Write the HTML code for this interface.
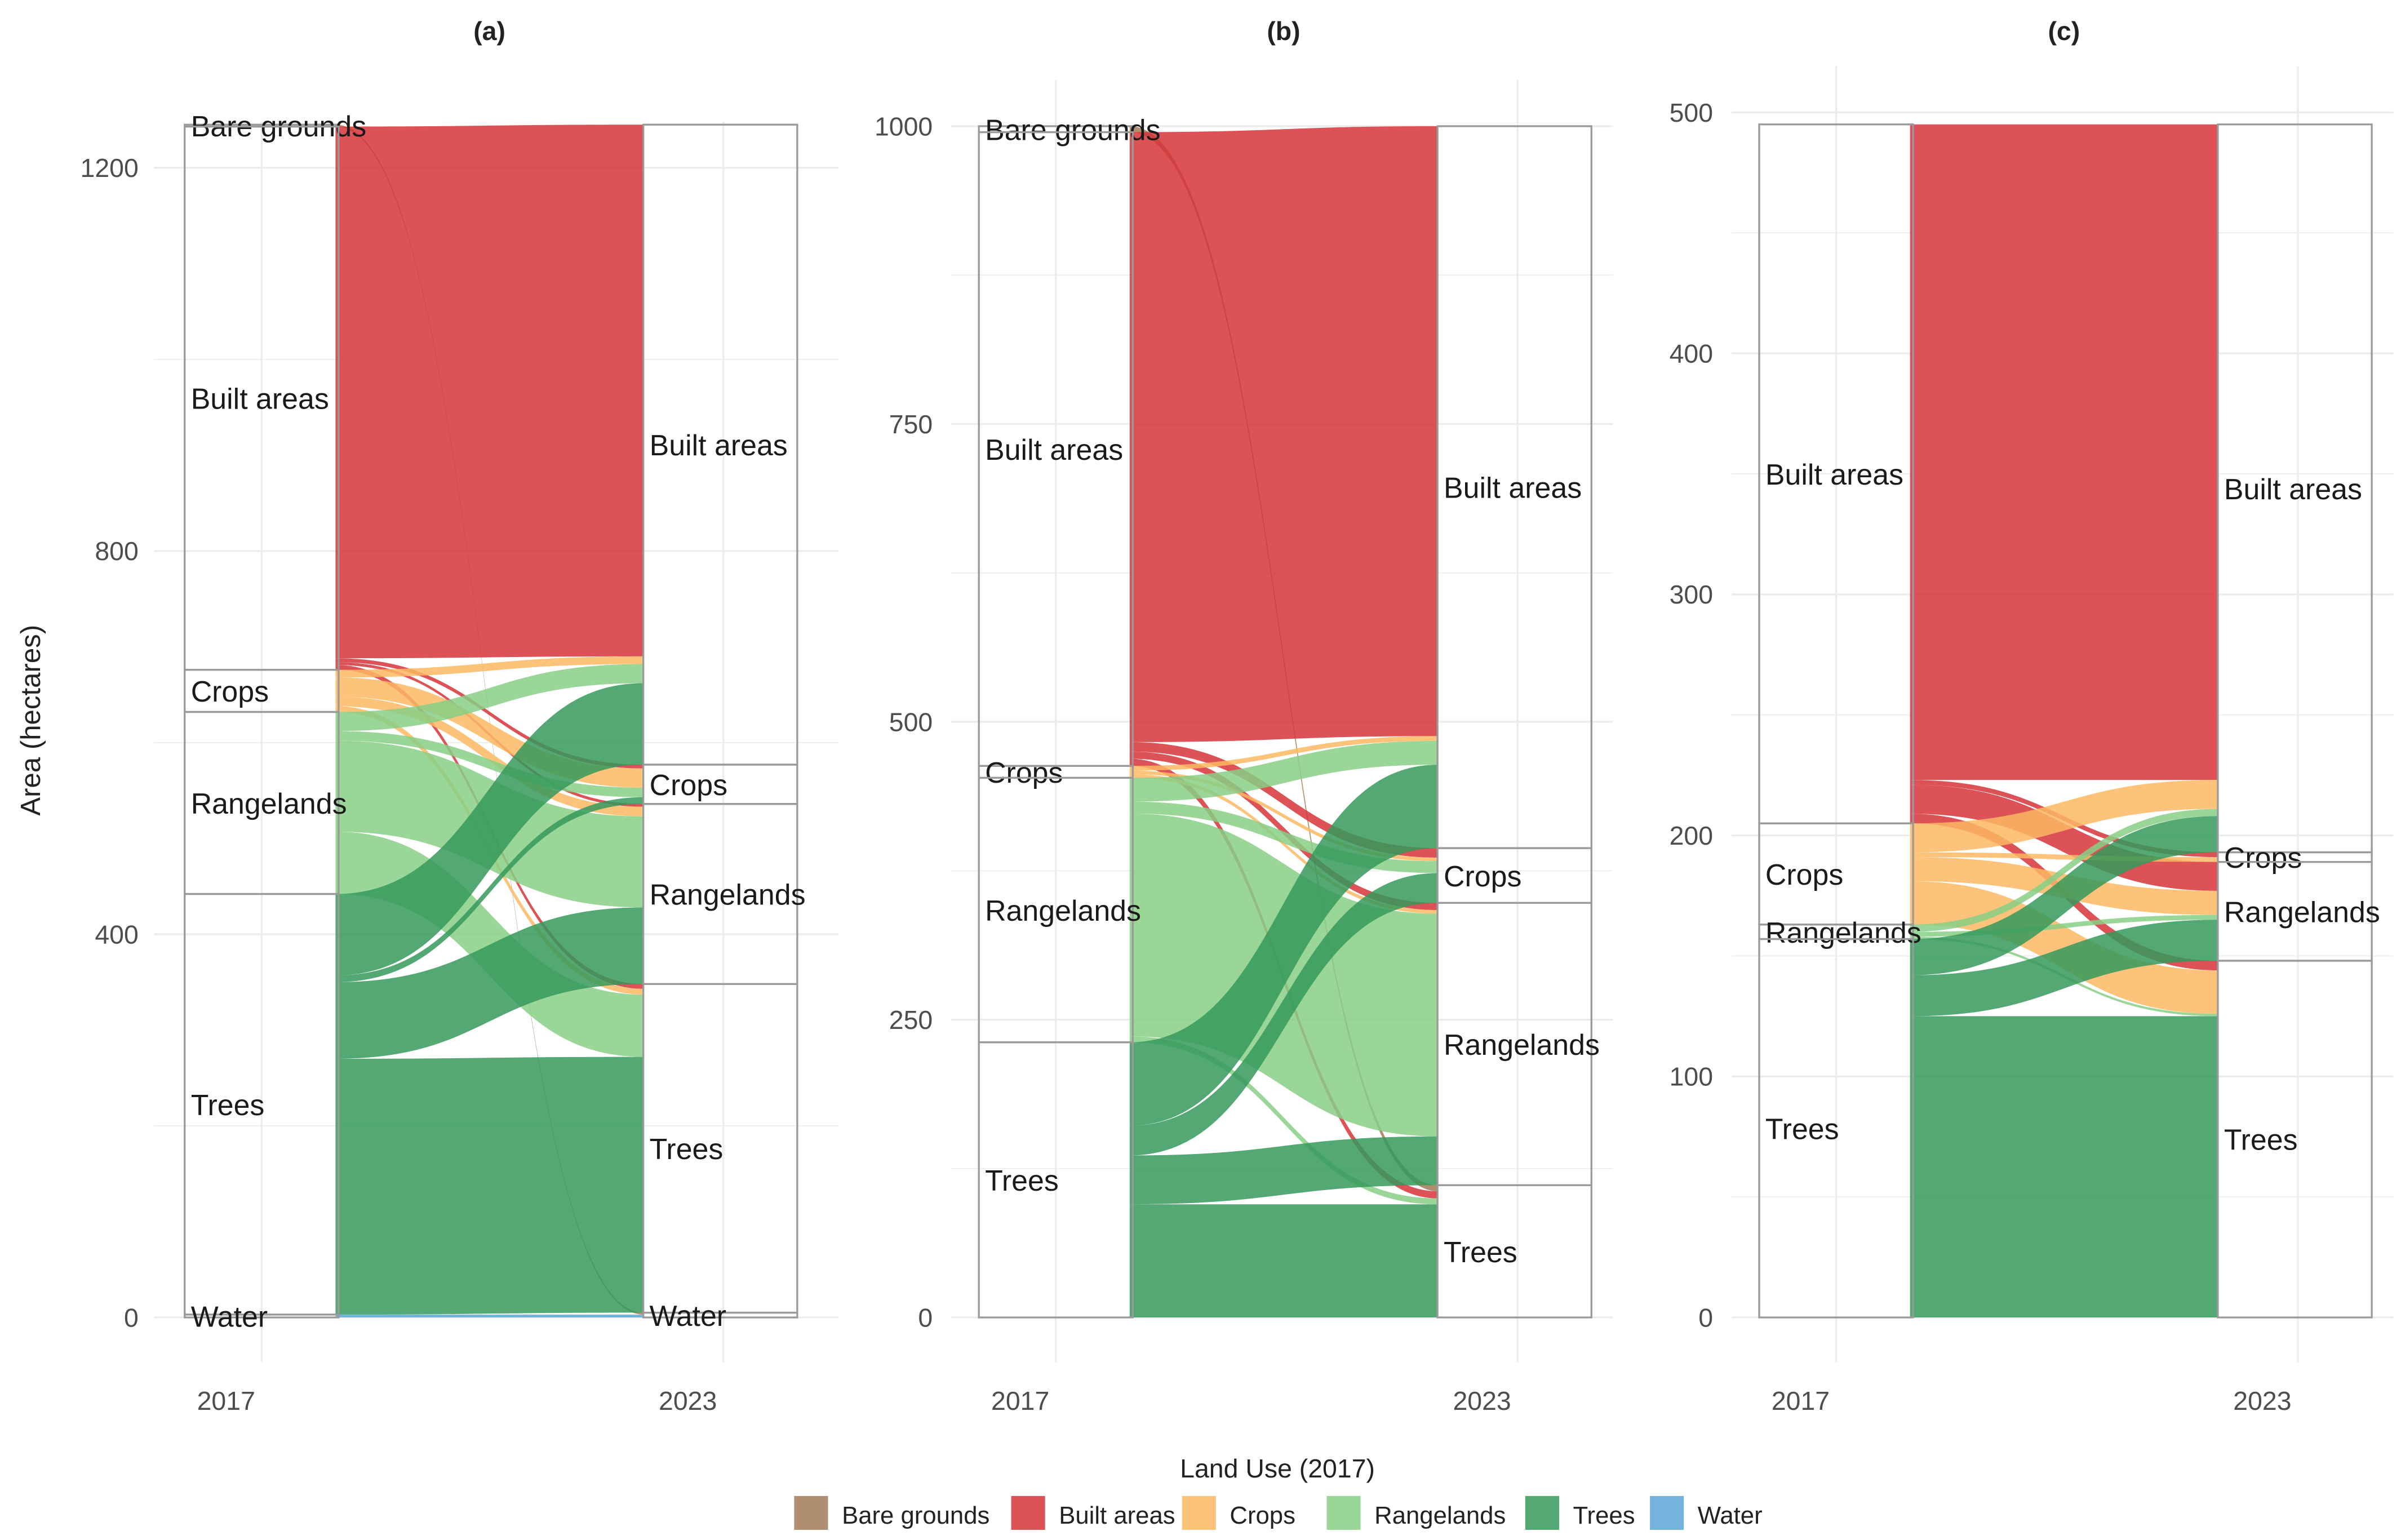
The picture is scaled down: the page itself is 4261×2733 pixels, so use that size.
<!DOCTYPE html>
<html><head><meta charset="utf-8">
<style>
html,body{margin:0;padding:0;background:#fff;}
svg{display:block;font-family:"Liberation Sans",Arial,sans-serif;}
</style></head>
<body>
<svg id="chart" width="4261" height="2733" viewBox="0 0 1560 1000.6" preserveAspectRatio="none" xmlns="http://www.w3.org/2000/svg">
<g id="panels"></g>
<g id="legend">
<text x="830" y="960" text-anchor="middle" font-size="17" fill="#222">Land Use (2017)</text>
</g>
<text x="0" y="0" transform="translate(26,468) rotate(-90)" text-anchor="middle" font-size="18" fill="#222">Area (hectares)</text>
</svg>
<script>
const categories = ["Bare grounds","Built areas","Crops","Rangelands","Trees","Water"];
const colors = ["#a27a58","#d6343a","#fdb863","#88cf86","#35995a","#5aa6d6"];
// flows[origin][destination] in hectares
const flowsA = [
 [0,0,0,0,0,2],
 [0,555,4,3,5,0],
 [0,8,20,10,6,0],
 [0,20,10,95,65,0],
 [0,85,7,80,267,0],
 [0,0,0,0,0,3]
];
const flowsB = [
 [0,0,0,0,5,0],
 [0,512,8,6,6,0],
 [0,4,3,3,0,0],
 [0,20,10,187,5,0],
 [0,70,25,41,95,0],
 [0,0,0,0,0,0]
];
const flowsC = [
 [0,0,0,0,0,0],
 [0,272,2,12,4,0],
 [0,12,2,10,18,0],
 [0,3,0,2,1,0],
 [0,15,0,17,125,0],
 [0,0,0,0,0,0]
];
const ticksA = [0,400,800,1200];
const ticksB = [0,250,500,750,1000];
const ticksC = [0,100,200,300,400,500];
const titles = ["(a)","(b)","(c)"];

const NS="http://www.w3.org/2000/svg";
function mk(tag,attrs,parent){const e=document.createElementNS(NS,tag);for(const k in attrs)e.setAttribute(k,attrs[k]);parent.appendChild(e);return e;}

const panelCfg=[
 {flows:flowsA,ticks:ticksA,ymax:1200,yAtMax:109,x0:120,minor:200,px0:100,px1:545},
 {flows:flowsB,ticks:ticksB,ymax:1000,yAtMax:82,x0:636,minor:125,px0:618,px1:1048},
 {flows:flowsC,ticks:ticksC,ymax:500,yAtMax:73,x0:1143,minor:50,px0:1125,px1:1555}
];
const root=document.getElementById('panels');
panelCfg.forEach((p,pi)=>{
 const g=mk('g',{},root);
 
 
 const y0=856;
 const sc=(y0-p.yAtMax)/p.ymax;
 const Y=v=>y0-v*sc;
 const top=Math.max(40,Y(p.ticks[p.ticks.length-1])-30);
 for(let v=0; Y(v)>=top; v+=p.minor){
  mk('line',{x1:p.px0,x2:p.px1,y1:Y(v),y2:Y(v),stroke:'#ececec','stroke-width':(v%(p.minor*2)===0)?1.2:0.6},g);
 }
 const xL=p.x0+50, xR=p.x0+350;
 [xL,xR].forEach(x=>mk('line',{x1:x,x2:x,y1:top,y2:885,stroke:'#ececec','stroke-width':1.2},g));
 p.ticks.forEach(t=>{const tx=mk('text',{x:p.x0-30,y:Y(t)+6,'text-anchor':'end','font-size':17,fill:'#4d4d4d'},g);tx.textContent=t;
  
  });
 [['2017',xL-42],['2023',xR-42]].forEach(([s,x])=>{const tx=mk('text',{x:x,y:916,'font-size':17,fill:'#4d4d4d'},g);tx.textContent=s;
  
  });
 const tt=mk('text',{x:p.x0+198,y:26,'text-anchor':'middle','font-size':17,'font-weight':'bold',fill:'#222'},g);tt.textContent=titles[pi];
 
 
 const n=categories.length,F=p.flows;
 const outT=categories.map((c,i)=>F[i].reduce((a,b)=>a+b,0));
 const inT=categories.map((c,j)=>F.reduce((a,r)=>a+r[j],0));
 const outB=[],inB=[];let acc=0;for(let i=n-1;i>=0;i--){outB[i]=acc;acc+=outT[i];}
 acc=0;for(let j=n-1;j>=0;j--){inB[j]=acc;acc+=inT[j];}
 const lPos={},rPos={};
 for(let i=0;i<n;i++){let a=outB[i];for(let j=n-1;j>=0;j--){lPos[i+'_'+j]=a;a+=F[i][j];}}
 for(let j=0;j<n;j++){let a=inB[j];for(let i=n-1;i>=0;i--){rPos[i+'_'+j]=a;a+=F[i][j];}}
 const sL=p.x0+98, sR=p.x0+298, mid=(sL+sR)/2;
 for(let i=0;i<n;i++)for(let j=0;j<n;j++){
  const v=F[i][j]; if(!v)continue;
  const a0=Y(lPos[i+'_'+j]),a1=Y(lPos[i+'_'+j]+v),b0=Y(rPos[i+'_'+j]),b1=Y(rPos[i+'_'+j]+v);
  const d=`M${sL},${a1} C${mid},${a1} ${mid},${b1} ${sR},${b1} L${sR},${b0} C${mid},${b0} ${mid},${a0} ${sL},${a0} Z`;
  const path=mk('path',{d:d,fill:colors[i],'fill-opacity':0.85},g);
  
  
 }
 for(let i=0;i<n;i++){
  [[p.x0,outB[i],outT[i]],[p.x0+298,inB[i],inT[i]]].forEach(([x,b,t],side)=>{
   if(t<=0)return;
   const r=mk('rect',{x:x,y:Y(b+t),width:100,height:t*sc,fill:'none',stroke:'#9a9a9a','stroke-width':1.2},g);
   
   
   const tx=mk('text',{x:x+4,y:Y(b+t/2)+7,'font-size':19,fill:'#1a1a1a'},g);tx.textContent=categories[i];
   
   
  });
 }
});
const lg=document.getElementById('legend');
const lx=[516,657,768,862,991,1072];
categories.forEach((c,i)=>{
 const r=mk('rect',{x:lx[i],y:972,width:22,height:22,fill:colors[i],'fill-opacity':0.85},lg);
 
 
 const t=mk('text',{x:lx[i]+31,y:990,'font-size':16,fill:'#222'},lg);t.textContent=c;
 
 
});
</script>
</body></html>
